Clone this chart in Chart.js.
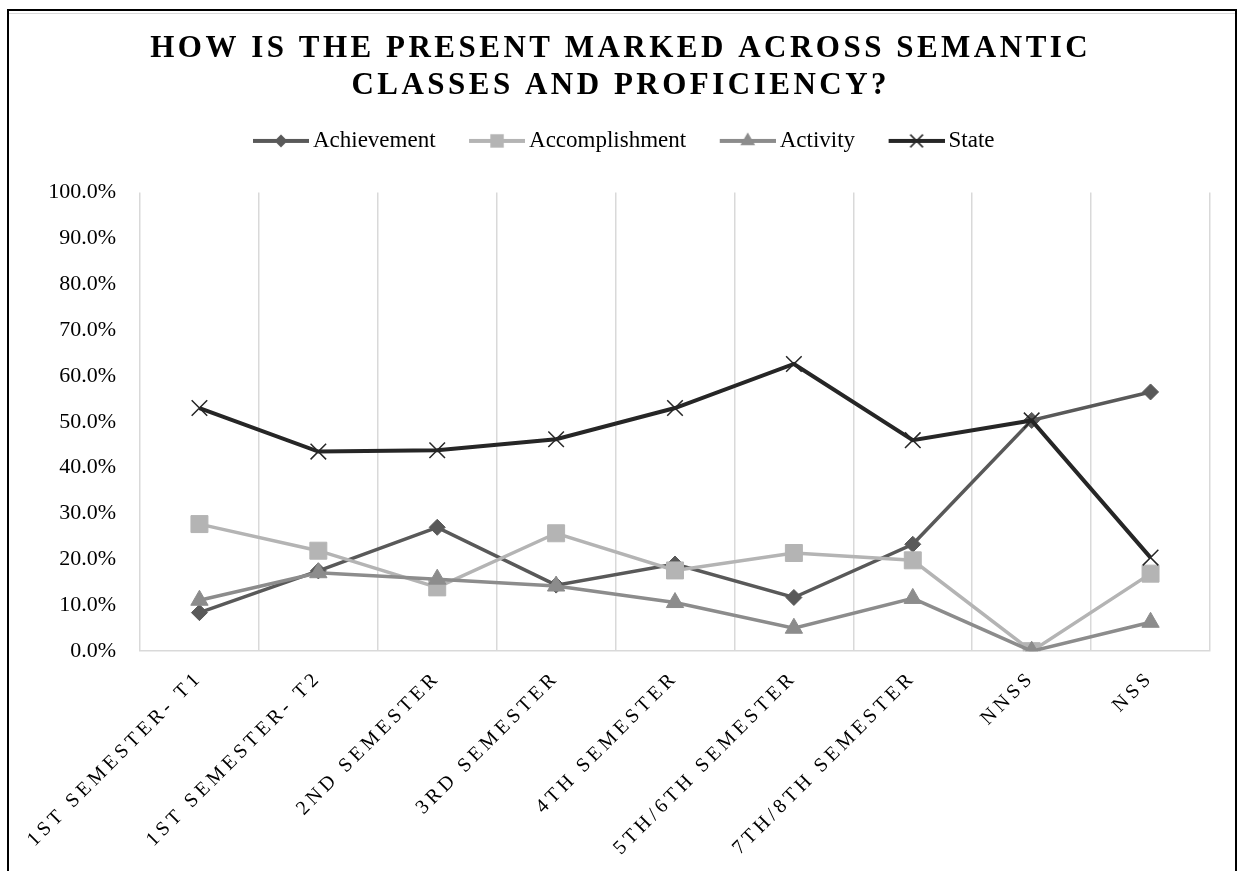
<!DOCTYPE html>
<html><head><meta charset="utf-8">
<script src="https://cdn.jsdelivr.net/npm/chart.js@4.4.1/dist/chart.umd.min.js"></script>
<style>
html,body{margin:0;padding:0;background:#fff;}
#wrap{position:relative;width:1238px;height:871px;overflow:hidden;background:#fff;}
#c{position:absolute;left:0;top:0;}
#frame{position:absolute;left:7px;top:9px;width:1230px;height:900px;border:2px solid #000;border-bottom:none;box-sizing:border-box;pointer-events:none;box-shadow:inset 0 2px 0 #fff, inset 0 3px 0 #d9d9d9;}
</style></head>
<body><div id="wrap"><canvas id="c" width="1238" height="871"></canvas><div id="frame"></div></div>
<script>
// ---- data ----
const categories = ['1ST SEMESTER- T1','1ST SEMESTER- T2','2ND SEMESTER','3RD SEMESTER','4TH SEMESTER','5TH/6TH SEMESTER','7TH/8TH SEMESTER','NNSS','NSS'];
const seriesNames = ['Achievement','Accomplishment','Activity','State'];
const achievement    = [8.4, 17.5, 27.0, 14.4, 19.0, 11.7, 23.3, 50.3, 56.5];
const accomplishment = [27.7, 21.9, 13.9, 25.7, 17.6, 21.4, 19.8, 0.0, 16.9];
const activity       = [11.1, 17.1, 15.7, 14.2, 10.6, 5.0, 11.5, 0.0, 6.3];
const state          = [53.0, 43.5, 43.8, 46.2, 53.0, 62.6, 46.0, 50.3, 20.4];
const titleLines = ['HOW IS THE PRESENT MARKED ACROSS SEMANTIC','CLASSES AND PROFICIENCY?'];

// ---- styles ----
const colors = ['#595959','#b4b4b4','#8c8c8c','#262626'];
const pointStyles = ['rectRot','rect','triangle','crossRot'];
const pointRadii = [8, 12, 10, 11];
const iconRadii = [6.5, 9.5, 8.5, 9];
const SERIF = "'Liberation Serif','Times New Roman',serif";
const X_LS = '4px', TITLE_LS = '3.5px';

function drawMarker(g, style, r, x, y, color){
  g.fillStyle = color; g.strokeStyle = color;
  g.beginPath();
  if (style === 'rectRot'){ g.moveTo(x, y-r); g.lineTo(x+r, y); g.lineTo(x, y+r); g.lineTo(x-r, y); g.closePath(); g.fill(); }
  else if (style === 'rect'){ const h = r*Math.SQRT1_2; g.rect(x-h, y-h, 2*h, 2*h); g.fill(); }
  else if (style === 'triangle'){ g.moveTo(x, y-r); g.lineTo(x+r*0.866, y+r*0.5); g.lineTo(x-r*0.866, y+r*0.5); g.closePath(); g.fill(); }
  else { const d = r*Math.SQRT1_2; g.lineWidth = 1.5; g.moveTo(x-d, y-d); g.lineTo(x+d, y+d); g.moveTo(x+d, y-d); g.lineTo(x-d, y+d); g.stroke(); }
}
function makeIcon(i){
  const c = document.createElement('canvas'); c.width = 87; c.height = 24;
  const g = c.getContext('2d');
  g.strokeStyle = colors[i]; g.lineWidth = 4;
  g.beginPath(); g.moveTo(31, 12); g.lineTo(87, 12); g.stroke();
  drawMarker(g, pointStyles[i], iconRadii[i], 59, 12, colors[i]);
  return c;
}
const legendIcons = [0,1,2,3].map(makeIcon);

class SpacedCategoryScale extends Chart.CategoryScale {
  update(a, b, c){ const ctx = this.ctx; const p = ctx.letterSpacing; ctx.letterSpacing = X_LS; try { return super.update(a, b, c); } finally { ctx.letterSpacing = p; } }
  drawLabels(ca){ const ctx = this.ctx; const p = ctx.letterSpacing; ctx.letterSpacing = X_LS; try { super.drawLabels(ca); } finally { ctx.letterSpacing = p; } }
}
SpacedCategoryScale.id = 'spacedCategory';
SpacedCategoryScale.defaults = Chart.CategoryScale.defaults;
Chart.register(SpacedCategoryScale);

const seriesData = [achievement, accomplishment, activity, state];
const datasets = seriesNames.map((name, i) => ({
  label: name,
  data: seriesData[i],
  borderColor: colors[i],
  backgroundColor: colors[i],
  borderWidth: i === 3 ? 4 : 3.5,
  pointStyle: pointStyles[i],
  pointRadius: pointRadii[i],
  pointBackgroundColor: colors[i],
  pointBorderColor: colors[i],
  pointBorderWidth: i === 3 ? 1.5 : 1,
  tension: 0,
  order: 4 - i
}));

const chart = new Chart(document.getElementById('c'), {
  type: 'line',
  data: { labels: categories, datasets },
  options: {
    responsive: false,
    animation: false,
    events: [],
    layout: { padding: { left: 28, right: 28, top: 10, bottom: -4 } },
    plugins: {
      tooltip: { enabled: false },
      title: {
        display: true, text: titleLines, color: '#000',
        font: { family: SERIF, size: 31, weight: 'bold', lineHeight: 1.2 },
        padding: { top: 20, bottom: 15 }
      },
      legend: {
        display: true, position: 'top',
        labels: {
          usePointStyle: true, pointStyleWidth: 72, padding: 10, color: '#000',
          font: { family: SERIF, size: 23 },
          generateLabels(ch){
            const items = Chart.defaults.plugins.legend.labels.generateLabels(ch);
            items.sort((a, b) => a.datasetIndex - b.datasetIndex);
            items.forEach(it => { it.pointStyle = legendIcons[it.datasetIndex]; it.fontColor = '#000'; });
            return items;
          }
        }
      }
    },
    scales: {
      x: {
        type: 'spacedCategory',
        offset: true,
        grid: { display: true, offset: true, color: '#d9d9d9', lineWidth: 1.5, drawTicks: false },
        border: { display: true, color: '#d9d9d9', width: 1.5 },
        ticks: { color: '#000', font: { family: SERIF, size: 20 }, minRotation: 45, maxRotation: 45, autoSkip: false, padding: 15, labelOffset: 0 }
      },
      y: {
        min: 0, max: 100,
        afterFit(s){ s.width = 112; },
        grid: { display: false, drawTicks: false },
        border: { display: false },
        ticks: { stepSize: 10, color: '#000', padding: 24, font: { family: SERIF, size: 22 }, callback: v => v.toFixed(1) + '%' }
      }
    }
  }
});

const tb = chart.titleBlock;
const tbDraw = tb.draw;
tb.draw = function(ca){ const ctx = this.ctx; ctx.save(); ctx.letterSpacing = TITLE_LS; ctx.translate(1.75, 0); tbDraw.call(this, ca); ctx.restore(); };
const lg = chart.legend;
const lgFit = lg.fit, lgDraw = lg.draw;
lg.fit = function(){ lgFit.call(this); this.height += 30; };
lg.draw = function(){ const ctx = this.ctx; ctx.save(); ctx.translate(-7, 0); lgDraw.call(this); ctx.restore(); };
chart.update('none');
</script>
</body></html>
